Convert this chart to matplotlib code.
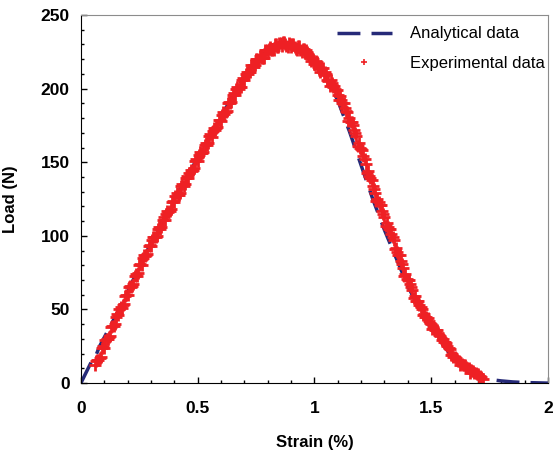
import matplotlib.pyplot as plt

plt.rcParams['font.family'] = ['Liberation Sans', 'DejaVu Sans']

# analytical curve
ana_x = [0, 0.045, 0.055, 0.08, 0.10, 0.15, 0.20, 0.25, 0.30, 0.35, 0.40, 0.45, 0.50,
         0.55, 0.60, 0.65, 0.70, 0.75, 0.80, 0.85, 0.90, 0.95, 1.00, 1.05, 1.10, 1.15,
         1.20, 1.25, 1.30, 1.35, 1.40, 1.45, 1.50, 1.55, 1.60, 1.65, 1.70, 1.75, 1.80,
         1.85, 1.90, 1.95, 2.00]
ana_y = [0, 14.5, 15, 25, 31, 46, 62, 79, 95, 110, 125, 139, 153,
         167, 181, 195, 208, 219, 226, 230, 229, 226, 219, 208, 192, 171,
         148, 125, 104, 85, 66, 50, 37, 26, 16, 9, 5, 2.5, 1.5,
         0.8, 0.4, 0.2, 0]

# experimental points, first pass
exp_x = [0.06, 0.07, 0.08, 0.09, 0.10, 0.11, 0.12, 0.13, 0.14, 0.15, 0.16, 0.17, 0.18, 0.19,
         0.20, 0.21, 0.22, 0.23, 0.24, 0.25, 0.26, 0.27, 0.28, 0.29, 0.30, 0.31, 0.32, 0.33,
         0.34, 0.35, 0.36, 0.37, 0.38, 0.39, 0.40, 0.41, 0.42, 0.43, 0.44, 0.45, 0.46, 0.47,
         0.48, 0.49, 0.50, 0.51, 0.52, 0.53, 0.54, 0.55, 0.56, 0.57, 0.58, 0.59, 0.60, 0.61,
         0.62, 0.63, 0.64, 0.65, 0.66, 0.67, 0.68, 0.69, 0.70, 0.71, 0.72, 0.73, 0.74, 0.75,
         0.76, 0.77, 0.78, 0.79, 0.80, 0.81, 0.82, 0.83, 0.84, 0.85, 0.86, 0.87, 0.88, 0.89,
         0.90, 0.91, 0.92, 0.93, 0.94, 0.95, 0.96, 0.97, 0.98, 0.99, 1.00, 1.01, 1.02, 1.03,
         1.04, 1.05, 1.06, 1.07, 1.08, 1.09, 1.10, 1.11, 1.12, 1.13, 1.14, 1.15, 1.16, 1.17,
         1.18, 1.19, 1.20, 1.21, 1.22, 1.23, 1.24, 1.25, 1.26, 1.27, 1.28, 1.29, 1.30, 1.31,
         1.32, 1.33, 1.34, 1.35, 1.36, 1.37, 1.38, 1.39, 1.40, 1.41, 1.42, 1.43, 1.44, 1.45,
         1.46, 1.47, 1.48, 1.49, 1.50, 1.51, 1.52, 1.53, 1.54, 1.55, 1.56, 1.57, 1.58, 1.59,
         1.60, 1.61, 1.62, 1.63, 1.64, 1.65, 1.66, 1.67, 1.68, 1.69, 1.70, 1.71, 1.72]
exp_y = [12, 16, 17, 24, 24, 30, 31, 38, 39, 45, 46, 52, 53, 59,
         60, 66, 66, 73, 73, 80, 80, 87, 87, 93, 93, 99, 99, 105,
         105, 111, 111, 117, 117, 123, 123, 129, 128, 134, 134, 139, 139, 145,
         145, 151, 151, 157, 156, 162, 162, 168, 167, 173, 173, 179, 178, 184,
         184, 190, 190, 196, 196, 201, 201, 206, 206, 211, 211, 216, 215, 220,
         218, 223, 221, 226, 224, 228, 226, 230, 228, 231, 229, 232, 229, 231,
         228, 230, 227, 229, 226, 227, 224, 225, 221, 221, 217, 218, 213, 214,
         209, 210, 205, 206, 201, 200, 196, 195, 190, 187, 184, 180, 177, 172,
         168, 163, 159, 154, 149, 144, 139, 134, 129, 125, 121, 117, 113, 109,
         105, 101, 97, 92, 87, 83, 78, 74, 70, 67, 63, 59, 56, 53,
         50, 47, 45, 42, 40, 38, 36, 34, 32, 30, 28, 25, 23, 20,
         18, 16, 15, 13, 12, 11, 10, 9, 8, 7, 6, 5, 3]

# experimental points, second pass (in between)
exp_x2 = [0.065, 0.075, 0.085, 0.095, 0.105, 0.115, 0.125, 0.135, 0.145, 0.155,
          0.165, 0.175, 0.185, 0.195, 0.205, 0.215, 0.225, 0.235, 0.245, 0.255,
          0.265, 0.275, 0.285, 0.295, 0.305, 0.315, 0.325, 0.335, 0.345, 0.355,
          0.365, 0.375, 0.385, 0.395, 0.405, 0.415, 0.425, 0.435, 0.445, 0.455,
          0.465, 0.475, 0.485, 0.495, 0.505, 0.515, 0.525, 0.535, 0.545, 0.555,
          0.565, 0.575, 0.585, 0.595, 0.605, 0.615, 0.625, 0.635, 0.645, 0.655,
          0.665, 0.675, 0.685, 0.695, 0.705, 0.715, 0.725, 0.735, 0.745, 0.755,
          0.765, 0.775, 0.785, 0.795, 0.805, 0.815, 0.825, 0.835, 0.845, 0.855,
          0.865, 0.875, 0.885, 0.895, 0.905, 0.915, 0.925, 0.935, 0.945, 0.955,
          0.965, 0.975, 0.985, 0.995, 1.005, 1.015, 1.025, 1.035, 1.045, 1.055,
          1.065, 1.075, 1.085, 1.095, 1.105, 1.115, 1.125, 1.135, 1.145, 1.155,
          1.165, 1.175, 1.185, 1.195, 1.205, 1.215, 1.225, 1.235, 1.245, 1.255,
          1.265, 1.275, 1.285, 1.295, 1.305, 1.315, 1.325, 1.335, 1.345, 1.355,
          1.365, 1.375, 1.385, 1.395, 1.405, 1.415, 1.425, 1.435, 1.445, 1.455,
          1.465, 1.475, 1.485, 1.495, 1.505, 1.515, 1.525, 1.535, 1.545, 1.555,
          1.565, 1.575, 1.585, 1.595, 1.605, 1.615, 1.625, 1.635, 1.645, 1.655,
          1.665, 1.675, 1.685, 1.695, 1.705, 1.715]
exp_y2 = [15, 16, 18, 25, 29, 30, 32, 39, 40, 47,
          50, 51, 54, 60, 65, 65, 67, 74, 75, 81,
          85, 86, 88, 94, 97, 99, 100, 106, 106, 113,
          115, 116, 118, 124, 127, 128, 129, 135, 135, 141,
          143, 144, 146, 152, 155, 156, 157, 163, 163, 169,
          171, 172, 174, 179, 182, 183, 185, 191, 191, 197,
          200, 200, 201, 207, 210, 210, 211, 216, 216, 220,
          222, 221, 221, 226, 227, 226, 226, 230, 228, 231,
          232, 230, 228, 230, 230, 228, 226, 229, 225, 227,
          226, 222, 219, 220, 219, 215, 211, 214, 211, 206,
          202, 204, 202, 199, 192, 192, 190, 185, 178, 177,
          175, 170, 161, 160, 158, 152, 143, 141, 138, 132,
          124, 123, 121, 115, 107, 106, 105, 99, 91, 89,
          87, 81, 73, 71, 70, 65, 58, 56, 56, 52,
          46, 45, 44, 41, 37, 36, 36, 33, 29, 28,
          27, 24, 19, 18, 17, 15, 12, 12, 12, 10,
          7, 8, 7, 6, 4, 4]

fig = plt.figure(figsize=(5.54, 4.55), dpi=100)
ax = fig.add_axes([0.146, 0.158, 0.843, 0.809])

ax.plot(ana_x, ana_y, color='#262a78', lw=2.5, dashes=(6.6, 3.2), label='Analytical data')
ax.plot(exp_x + exp_x2, exp_y + exp_y2, ls='none', marker='+', ms=8.5, mew=2,
        color='#ee2024', label='Experimental data')

ax.set_xlim(0, 2)
ax.set_ylim(0, 250)
ax.set_xticks([0, 0.5, 1, 1.5, 2])
ax.set_xticklabels(['0', '0.5', '1', '1.5', '2'])
ax.set_yticks([0, 50, 100, 150, 200, 250])
ax.set_xticks([i / 10 for i in range(21)], minor=True)
ax.set_yticks(range(0, 251, 10), minor=True)
ax.tick_params(which='both', direction='in', color='black', labelsize=12.5)
ax.tick_params(which='major', length=4, width=1)
ax.tick_params(which='minor', length=2.5, width=1)
ax.tick_params(axis='x', pad=13)
ax.tick_params(axis='y', pad=8)
for t in ax.get_xticklabels() + ax.get_yticklabels():
    t.set_fontweight('bold')

for s in ['top', 'right']:
    ax.spines[s].set_color('#8c8c8c')
for s in ['left', 'bottom']:
    ax.spines[s].set_color('black')

ax.set_xlabel('Strain (%)', fontsize=12, fontweight='bold')
ax.set_ylabel('Load (N)', fontsize=12, fontweight='bold')
ax.xaxis.set_label_coords(0.5, -0.14)
ax.yaxis.set_label_coords(-0.135, 0.5)

leg = ax.legend(loc='upper left', bbox_to_anchor=(0.548, 0.969), frameon=False, fontsize=12,
                handlelength=3.3, handletextpad=1.1, labelspacing=0.85, borderpad=0,
                borderaxespad=0, markerscale=0.5)
leg.legend_handles[1].set_markeredgewidth(1.2)

fig.savefig('out.png', dpi=100)
